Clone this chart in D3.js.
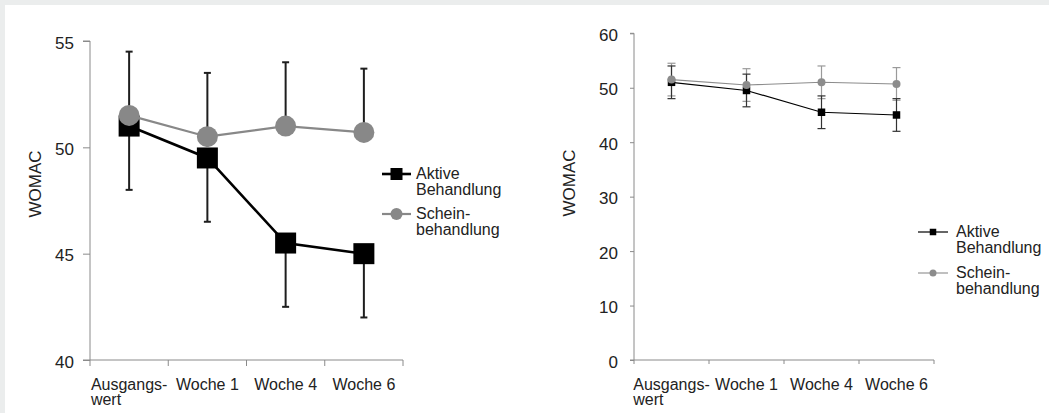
<!DOCTYPE html>
<html>
<head>
<meta charset="utf-8">
<script src="https://cdn.jsdelivr.net/npm/d3@7"></script>
<style>
  html, body { margin: 0; padding: 0; background: #ebeded; }
  svg { display: block; }
  text { font-family: "Liberation Sans", Arial, Helvetica, sans-serif; fill: #222; }
</style>
</head>
<body>
<svg id="chart" width="1049" height="413"></svg>
<script>
// ---- Data ----
const categories = ["Ausgangs-|wert", "Woche 1", "Woche 4", "Woche 6"];
const activeMean = [51.0, 49.5, 45.5, 45.0];
const activeErr  = [3.0, 3.0, 3.0, 3.0];
const shamMean   = [51.5, 50.5, 51.0, 50.7];
const shamErr    = [3.0, 3.0, 3.0, 3.0];
const leftTicks  = [40, 45, 50, 55];
const rightTicks = [0, 10, 20, 30, 40, 50, 60];
const yLabel = "WOMAC";
const legendActive = ["Aktive", "Behandlung"];
const legendSham   = ["Schein-", "behandlung"];

const svg = d3.select("#chart");
// white panel with gray strip on top/left
svg.append("rect").attr("x", 5).attr("y", 5).attr("width", 1044).attr("height", 408).attr("fill", "#fff");

function drawPanel(cfg) {
  const g = svg.append("g");
  const x = d3.scaleBand().domain(categories).range([cfg.x0, cfg.x1]);
  const y = d3.scaleLinear().domain(cfg.domain).range([cfg.yBottom, cfg.yTop]);
  const axisColor = "#8a8a8a";

  // y axis
  const ya = g.append("g").attr("transform", `translate(${cfg.x0},0)`)
    .call(d3.axisLeft(y).tickValues(cfg.ticks).tickSize(cfg.tickLen).tickPadding(cfg.tickPad).tickFormat(d3.format("d")));
  ya.select(".domain").attr("stroke", axisColor).attr("d", `M${-cfg.tickLen},${cfg.yTop}H0V${cfg.yBottom}H${-cfg.tickLen}`);
  ya.selectAll(".tick line").attr("stroke", axisColor);
  ya.selectAll(".tick text").attr("font-size", cfg.tickFont).attr("fill", "#222").attr("dy", "0.42em")
    .attr("font-family", "'Liberation Sans', Arial, sans-serif");

  // x axis
  const xa = g.append("g").attr("transform", `translate(0,${cfg.yBottom})`);
  xa.append("line").attr("x1", cfg.x0).attr("x2", cfg.x1).attr("y1", 0).attr("y2", 0).attr("stroke", axisColor);
  const xt = [cfg.x0].concat(categories.map(c => x(c) + x.bandwidth()));
  xa.selectAll("line.xt").data(xt).join("line").attr("class", "xt")
    .attr("x1", d => d).attr("x2", d => d).attr("y1", 0).attr("y2", cfg.xTickLen).attr("stroke", axisColor);
  const lbl = xa.selectAll("text.cat").data(categories).join("text").attr("class", "cat")
    .attr("font-size", cfg.catFont).attr("text-anchor", "start");
  lbl.each(function(d) {
    const parts = d.split("|");
    const t = d3.select(this);
    const cx = x(d) + x.bandwidth() / 2;
    parts.forEach((p, i) => {
      t.append("tspan").attr("x", cx).attr("y", cfg.catDy + i * 15).text(p);
    });
  });
  // center first line, left-align continuation lines with the first
  lbl.each(function() {
    const tsp = d3.select(this).selectAll("tspan").nodes();
    const w0 = tsp[0].getComputedTextLength();
    const left = +tsp[0].getAttribute("x") - w0 / 2;
    tsp.forEach(n => n.setAttribute("x", left));
  });

  // y label
  g.append("text").attr("transform", `translate(${cfg.yLabelX},${cfg.yLabelY}) rotate(-90)`)
    .attr("text-anchor", "middle").attr("font-size", cfg.yLabelFont).text(yLabel);

  const cx = c => x(c) + x.bandwidth() / 2;
  const line = d3.line().x((d, i) => cx(categories[i])).y(d => y(d));

  // error bars
  function errBars(mean, err, color, width, up, down) {
    categories.forEach((c, i) => {
      const top = up ? y(mean[i] + err[i]) : y(mean[i]);
      const bot = down ? y(mean[i] - err[i]) : y(mean[i]);
      g.append("line").attr("x1", cx(c)).attr("x2", cx(c)).attr("y1", top).attr("y2", bot)
        .attr("stroke", color).attr("stroke-width", width);
      if (up) g.append("line").attr("x1", cx(c) - cfg.cap).attr("x2", cx(c) + cfg.cap)
        .attr("y1", top).attr("y2", top).attr("stroke", color).attr("stroke-width", width);
      if (down) g.append("line").attr("x1", cx(c) - cfg.cap).attr("x2", cx(c) + cfg.cap)
        .attr("y1", bot).attr("y2", bot).attr("stroke", color).attr("stroke-width", width);
    });
  }
  errBars(shamMean, shamErr, cfg.shamErrColor, cfg.errW, true, cfg.bothSides);
  errBars(activeMean, activeErr, cfg.activeErrColor, cfg.errW, cfg.bothSides, true);

  // active line + squares
  g.append("path").datum(activeMean).attr("d", line).attr("fill", "none")
    .attr("stroke", "#000").attr("stroke-width", cfg.activeLW);
  g.selectAll("rect.sq").data(activeMean).join("rect").attr("class", "sq")
    .attr("x", (d, i) => cx(categories[i]) - cfg.sq / 2).attr("y", d => y(d) - cfg.sq / 2)
    .attr("width", cfg.sq).attr("height", cfg.sq).attr("fill", "#000");

  // sham line + circles
  g.append("path").datum(shamMean).attr("d", line).attr("fill", "none")
    .attr("stroke", cfg.shamColor).attr("stroke-width", cfg.shamLW);
  g.selectAll("circle.ci").data(shamMean).join("circle").attr("class", "ci")
    .attr("cx", (d, i) => cx(categories[i])).attr("cy", d => y(d)).attr("r", cfg.r)
    .attr("fill", cfg.shamColor);

  // legend
  const L = cfg.legend;
  const lg = g.append("g");
  lg.append("line").attr("x1", L.x0).attr("x2", L.x1).attr("y1", L.y1).attr("y2", L.y1)
    .attr("stroke", "#000").attr("stroke-width", cfg.activeLW);
  lg.append("rect").attr("x", (L.x0 + L.x1) / 2 - L.sq / 2).attr("y", L.y1 - L.sq / 2)
    .attr("width", L.sq).attr("height", L.sq).attr("fill", "#000");
  lg.append("line").attr("x1", L.x0).attr("x2", L.x1).attr("y1", L.y2).attr("y2", L.y2)
    .attr("stroke", cfg.shamColor).attr("stroke-width", cfg.shamLW);
  lg.append("circle").attr("cx", (L.x0 + L.x1) / 2).attr("cy", L.y2).attr("r", L.r).attr("fill", cfg.shamColor);
  [[legendActive, L.y1], [legendSham, L.y2]].forEach(([txt, yy]) => {
    txt.forEach((t, i) => {
      lg.append("text").attr("x", L.tx).attr("y", yy + 5 + i * 16).attr("font-size", L.font).text(t);
    });
  });
}

drawPanel({
  x0: 90, x1: 403, yTop: 41, yBottom: 360, domain: [40, 55], ticks: leftTicks,
  tickLen: 7, tickPad: 9, xTickLen: 6, tickFont: 17, catFont: 16, catDy: 30,
  yLabelX: 41, yLabelY: 184, yLabelFont: 17,
  shamColor: "#888", shamLW: 2.2, activeLW: 2.6, sq: 21, r: 10.5,
  errW: 2, cap: 3.5, shamErrColor: "#1e1e1e", activeErrColor: "#1e1e1e", bothSides: false,
  legend: { x0: 382, x1: 411, y1: 174, y2: 214, sq: 12, r: 6, tx: 416, font: 16 }
});

drawPanel({
  x0: 634, x1: 934, yTop: 33.3, yBottom: 360, domain: [0, 60], ticks: rightTicks,
  tickLen: 4, tickPad: 12, xTickLen: 4, tickFont: 17, catFont: 16, catDy: 30,
  yLabelX: 575, yLabelY: 183, yLabelFont: 17,
  shamColor: "#8c8c8c", shamLW: 1.1, activeLW: 1.2, sq: 7.5, r: 4,
  errW: 1.2, cap: 4, shamErrColor: "#9a9a9a", activeErrColor: "#333", bothSides: true,
  legend: { x0: 918, x1: 948, y1: 232, y2: 273, sq: 6.5, r: 3.5, tx: 956, font: 16 }
});
</script>
</body>
</html>
